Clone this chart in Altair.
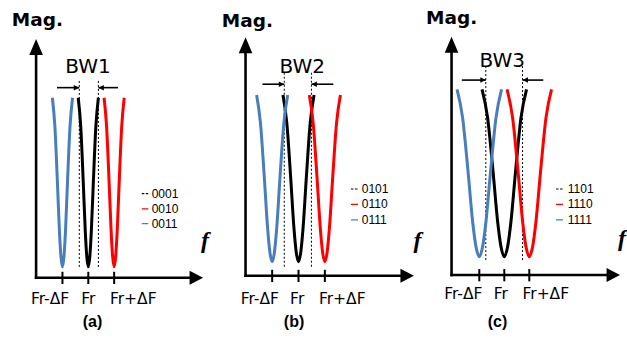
import altair as alt
import pandas as pd

# ---------------- data (frequency in units of ΔF with Fr = 0, magnitude in arbitrary units) -------------
panel_tags = ["(a)", "(b)", "(c)"]
bw_labels = ["BW1", "BW2", "BW3"]
series = ["black", "red", "blue"]
series_colors = ["#000000", "#ff0000", "#4a7ebb"]
legend_codes = [["0001", "0010", "0011"],
                ["0101", "0110", "0111"],
                ["1101", "1110", "1111"]]
curve_centers = [0.0, 1.0, -1.0]          # Fr, Fr+ΔF, Fr-ΔF
half_widths = [0.39, 0.59, 0.89]          # half width of each notch, per panel
curve_bottom = [0.057, 0.085, 0.113]
curve_top = [0.996, 1.011, 1.043]
# shape of a notch (normalised offset, normalised magnitude)
profile_u = [-1.0, -0.75, -0.5, -0.3, -0.15, 0.0, 0.15, 0.3, 0.5, 0.75, 1.0]
profile_m = [1.0, 0.83, 0.5, 0.21, 0.06, 0.0, 0.06, 0.21, 0.5, 0.83, 1.0]
tick_values = [-1.0, 0.0, 1.0]
tick_labels = ["Fr-ΔF", "Fr", "Fr+ΔF"]

# ---------------- annotation layout ----------------
panel_width = [210, 205, 212]
x_domain = [[-3.416, 4.708], [-3.359, 4.421], [-3.572, 4.908]]
y_domain = [-0.4611, 1.5389]
axis_x0 = [-2.02, -2.01, -2.11]
axis_y0 = [-0.004, 0.007, 0.011]
axis_x_tip = [4.44, 4.38, 4.63]
axis_y_tip = [1.322, 1.332, 1.335]
dotted_x = [[-0.35, 0.39], [-0.54, 0.49], [-0.74, 0.73]]
dotted_y = [[0.056, 1.094], [0.057, 1.146], [0.094, 1.182]]
bw_arrow_y = [1.052, 1.071, 1.094]
bw_arrow_start = [[-1.21, 1.15], [-1.37, 1.32], [-1.70, 1.56]]
bw_label_x = [-0.01, 0.14, -0.08]
bw_label_y = [1.135, 1.133, 1.168]
mag_x = [-2.96, -2.91, -3.13]
mag_y = [1.394, 1.39, 1.406]
tick_label_x = [[-1.48, 0.0, 1.74], [-1.47, -0.05, 1.66], [-1.64, -0.14, 1.66]]
tick_label_y = [-0.148, -0.148, -0.121]
legend_dash_x = [[2.07, 2.32], [1.99, 2.26], [2.07, 2.35]]
legend_text_x = [2.45, 2.40, 2.54]
legend_rows_y = [[0.463, 0.379, 0.296], [0.489, 0.404, 0.317], [0.489, 0.404, 0.317]]
f_x = [4.51, 4.52, 4.71]
f_y = [0.16, 0.16, 0.17]
tag_x = [0.16, -0.17, -0.27]
tag_y = -0.275

UP = "M0,0L-0.85,2L0.85,2Z"
RIGHT = "M0,0L-2,-1.05L-2,1.05Z"
SMALL_RIGHT = "M0,0L-2,-1L-2,1Z"
SMALL_LEFT = "M0,0L2,-1L2,1Z"


def panel(i):
    xs = alt.Scale(domain=x_domain[i], zero=False, nice=False)
    ys = alt.Scale(domain=y_domain, zero=False, nice=False)

    def X(f):
        return alt.X(f, type="quantitative", scale=xs, axis=None)

    def Y(f):
        return alt.Y(f, type="quantitative", scale=ys, axis=None)

    color = alt.Color("series:N", scale=alt.Scale(domain=series, range=series_colors), legend=None)

    rows = []
    for s, c in zip(series, curve_centers):
        for j, (u, m) in enumerate(zip(profile_u, profile_m)):
            rows.append(dict(series=s, order=j,
                             x=c + u * half_widths[i],
                             y=curve_bottom[i] + m * (curve_top[i] - curve_bottom[i])))
    curves = alt.Chart(pd.DataFrame(rows)).mark_line(
        strokeWidth=3, interpolate="monotone"
    ).encode(x=X("x"), y=Y("y"), color=color, detail="series:N", order=alt.Order("order:Q"))

    dotted = alt.Chart(pd.DataFrame(dict(x=dotted_x[i], y0=[dotted_y[i][0]] * 2, y1=[dotted_y[i][1]] * 2))
                       ).mark_rule(strokeDash=[2, 2], strokeWidth=1, color="black"
                       ).encode(x=X("x"), y=Y("y0"), y2="y1")

    bw_df = pd.DataFrame(dict(x0=bw_arrow_start[i], x1=dotted_x[i], y=[bw_arrow_y[i]] * 2))
    bw_lines = alt.Chart(bw_df).mark_rule(strokeWidth=1.6, color="black").encode(
        x=X("x0"), x2="x1", y=Y("y"))
    bw_head_r = alt.Chart(pd.DataFrame(dict(x=[dotted_x[i][0]], y=[bw_arrow_y[i]]))).mark_point(
        shape=SMALL_RIGHT, size=30, filled=True, color="black", opacity=1, strokeWidth=0
    ).encode(x=X("x"), y=Y("y"))
    bw_head_l = alt.Chart(pd.DataFrame(dict(x=[dotted_x[i][1]], y=[bw_arrow_y[i]]))).mark_point(
        shape=SMALL_LEFT, size=30, filled=True, color="black", opacity=1, strokeWidth=0
    ).encode(x=X("x"), y=Y("y"))

    yaxis = alt.Chart(pd.DataFrame(dict(x=[axis_x0[i]], y0=[axis_y0[i]], y1=[axis_y_tip[i] - 0.05]))
                      ).mark_rule(strokeWidth=2.6, color="black", strokeCap="square"
                      ).encode(x=X("x"), y=Y("y0"), y2="y1")
    xaxis = alt.Chart(pd.DataFrame(dict(x0=[axis_x0[i]], x1=[axis_x_tip[i] - 0.3], y=[axis_y0[i]]))
                      ).mark_rule(strokeWidth=2.6, color="black", strokeCap="square"
                      ).encode(x=X("x0"), x2="x1", y=Y("y"))
    yhead = alt.Chart(pd.DataFrame(dict(x=[axis_x0[i]], y=[axis_y_tip[i]]))).mark_point(
        shape=UP, size=256, filled=True, color="black", opacity=1, strokeWidth=0
    ).encode(x=X("x"), y=Y("y"))
    xhead = alt.Chart(pd.DataFrame(dict(x=[axis_x_tip[i]], y=[axis_y0[i]]))).mark_point(
        shape=RIGHT, size=182, filled=True, color="black", opacity=1, strokeWidth=0
    ).encode(x=X("x"), y=Y("y"))

    ticks = alt.Chart(pd.DataFrame(dict(x=tick_values, y0=[axis_y0[i] - 0.035] * 3,
                                        y1=[axis_y0[i] + 0.033] * 3))
                      ).mark_rule(strokeWidth=2, color="black").encode(x=X("x"), y=Y("y0"), y2="y1")
    tick_text = alt.Chart(pd.DataFrame(dict(x=tick_label_x[i], y=[tick_label_y[i]] * 3, t=tick_labels))
                          ).mark_text(font="DejaVu Sans", fontSize=15.5, align="center",
                                      baseline="alphabetic", color="black"
                          ).encode(x=X("x"), y=Y("y"), text="t:N")

    bw_text = alt.Chart(pd.DataFrame(dict(x=[bw_label_x[i]], y=[bw_label_y[i]], t=[bw_labels[i]]))
                        ).mark_text(font="DejaVu Sans", fontSize=20, align="center",
                                    baseline="alphabetic", color="black"
                        ).encode(x=X("x"), y=Y("y"), text="t:N")
    mag_text = alt.Chart(pd.DataFrame(dict(x=[mag_x[i]], y=[mag_y[i]], t=["Mag."]))
                         ).mark_text(font="DejaVu Sans", fontSize=18.5, fontWeight="bold", align="left",
                                     baseline="alphabetic", color="black"
                         ).encode(x=X("x"), y=Y("y"), text="t:N")
    f_text = alt.Chart(pd.DataFrame(dict(x=[f_x[i]], y=[f_y[i]], t=["f"]))
                       ).mark_text(font="Liberation Serif", fontSize=24, fontWeight="bold",
                                   fontStyle="italic", align="center", baseline="alphabetic", color="black"
                       ).encode(x=X("x"), y=Y("y"), text="t:N")
    tag_text = alt.Chart(pd.DataFrame(dict(x=[tag_x[i]], y=[tag_y], t=[panel_tags[i]]))
                         ).mark_text(font="Liberation Sans", fontSize=16, fontWeight="bold", align="center",
                                     baseline="alphabetic", color="black"
                         ).encode(x=X("x"), y=Y("y"), text="t:N")

    leg_df = pd.DataFrame(dict(series=series, x0=[legend_dash_x[i][0]] * 3, x1=[legend_dash_x[i][1]] * 3,
                               xt=[legend_text_x[i]] * 3, y=legend_rows_y[i], t=legend_codes[i]))
    leg_dash = alt.Chart(leg_df).mark_rule(strokeWidth=1.2).encode(
        x=X("x0"), x2="x1", y=Y("y"), color=color,
        strokeDash=alt.StrokeDash("series:N", scale=alt.Scale(domain=series, range=[[2.5, 1.5], [1, 0], [1, 0]]),
                                  legend=None))
    leg_text = alt.Chart(leg_df).mark_text(font="Liberation Sans", fontSize=12, align="left",
                                           baseline="middle", color="black"
                                           ).encode(x=X("xt"), y=Y("y"), text="t:N")

    return alt.layer(
        dotted, curves, bw_lines, bw_head_r, bw_head_l, yaxis, xaxis, yhead, xhead, ticks,
        tick_text, bw_text, mag_text, f_text, tag_text, leg_dash, leg_text
    ).properties(width=panel_width[i], height=360)


chart = alt.hconcat(panel(0), panel(1), panel(2), spacing=0, bounds="flush", padding=0,
                    background="white"
                    ).configure_view(strokeWidth=0, stroke="transparent")

chart.save("out.html", embed_options={"renderer": "svg", "actions": False})
